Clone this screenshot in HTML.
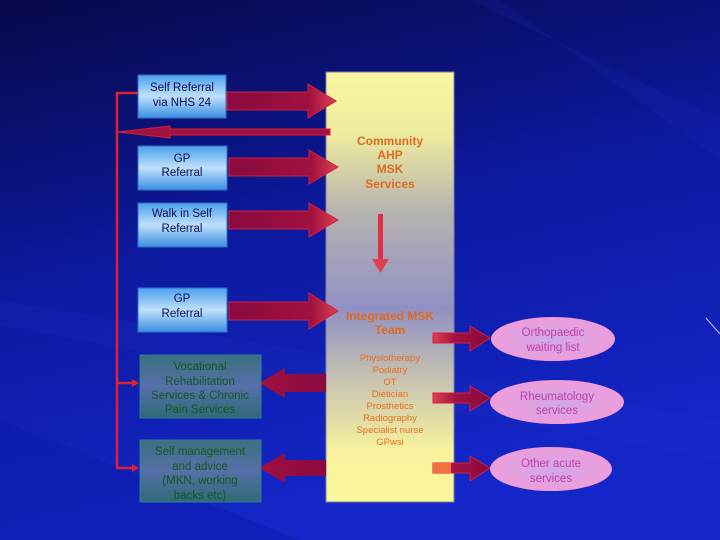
<!DOCTYPE html>
<html><head><meta charset="utf-8"><style>
html,body{margin:0;padding:0;width:720px;height:540px;overflow:hidden;background:#0a0a80}
svg{display:block}
text{font-family:"Liberation Sans",sans-serif}
</style></head><body>
<svg width="720" height="540" viewBox="0 0 720 540" xmlns="http://www.w3.org/2000/svg">
<defs>
<linearGradient id="bg" x1="0" y1="0" x2="0.3" y2="1">
<stop offset="0" stop-color="#080848"/><stop offset="0.5" stop-color="#0c1aa0"/><stop offset="1" stop-color="#1426c8"/>
</linearGradient>
<linearGradient id="col" x1="0" y1="0" x2="0" y2="1">
<stop offset="0" stop-color="#faf6a0"/><stop offset="0.15" stop-color="#ecea9e"/><stop offset="0.32" stop-color="#b8b4b0"/><stop offset="0.55" stop-color="#9090c4"/><stop offset="0.72" stop-color="#c8c4b0"/><stop offset="0.88" stop-color="#f6f29e"/><stop offset="1" stop-color="#faf69c"/>
</linearGradient>
<linearGradient id="blue" x1="0" y1="0" x2="0" y2="1">
<stop offset="0" stop-color="#4aa0ee"/><stop offset="0.5" stop-color="#bfe0fa"/><stop offset="1" stop-color="#3a8ee4"/>
</linearGradient>
<linearGradient id="teal" x1="0" y1="0" x2="0" y2="1">
<stop offset="0" stop-color="#3a7080"/><stop offset="0.5" stop-color="#5670a8"/><stop offset="1" stop-color="#2f6a78"/>
</linearGradient>
<linearGradient id="arr" x1="0" y1="0" x2="1" y2="0">
<stop offset="0" stop-color="#8a0a40"/><stop offset="0.75" stop-color="#a0103e"/><stop offset="1" stop-color="#e04050"/>
</linearGradient>
<linearGradient id="arrs" x1="0" y1="0" x2="1" y2="0">
<stop offset="0" stop-color="#e04050"/><stop offset="0.4" stop-color="#a0103e"/><stop offset="1" stop-color="#8a0a40"/>
</linearGradient>
<linearGradient id="arrl" x1="1" y1="0" x2="0" y2="0">
<stop offset="0" stop-color="#8a0a40"/><stop offset="1" stop-color="#a01040"/>
</linearGradient>
<radialGradient id="ell" cx="0.5" cy="0.5" r="0.6">
<stop offset="0" stop-color="#d0a8e8"/><stop offset="1" stop-color="#f49ad8"/>
</radialGradient>
</defs>
<rect width="720" height="540" fill="url(#bg)"/>
<path d="M470 0 L720 120 L720 160 L500 0Z" fill="#2030c0" opacity="0.15"/>
<path d="M0 300 L720 420 L720 460 L0 325Z" fill="#2a3ad8" opacity="0.12"/>
<path d="M0 420 L0 540 L300 540Z" fill="#0818a0" opacity="0.3"/>
<line x1="706" y1="318" x2="720" y2="334" stroke="#c0c8ff" stroke-width="1"/>

<rect x="326" y="72" width="128" height="430" fill="url(#col)" stroke="#8080a0" stroke-width="1"/>

<g stroke="#e02030" stroke-width="2.5" fill="none">
<polyline points="138,93 117,93 117,468 132,468"/>
<line x1="117" y1="383" x2="132" y2="383"/>
</g>
<polygon points="132,379 139,383 132,387" fill="#e02030"/>
<polygon points="132,464 139,468 132,472" fill="#e02030"/>
<polygon points="330,129 170,129 170,126 118,132 170,138 170,135 330,135" fill="#a01040" stroke="#e02030" stroke-width="1"/>

<g fill="url(#arr)" stroke="#d02040" stroke-width="1">
<polygon points="227,92 308,92 308,84 336,101 308,118 308,110 227,110"/>
<polygon points="229,158 309,158 309,150 338,167 309,184 309,176 229,176"/>
<polygon points="229,211 309,211 309,203 338,220 309,237 309,229 229,229"/>
<polygon points="229,302 309,302 309,293 338,311 309,329 309,320 229,320"/>
</g>
<rect x="378" y="214" width="5" height="46" fill="#e03048"/>
<polygon points="372,259 389,259 380.5,273" fill="#e04050"/>

<g fill="url(#arrl)" stroke="none">
<polygon points="326,374 285,374 285,368 259,383 285,398 285,392 326,392"/>
<polygon points="326,460 285,460 285,453 259,468 285,483 285,476 326,476"/>
</g>
<g stroke="#d02040" stroke-width="1" fill="url(#arrs)">
<polygon points="433,333 470,333 470,326 490,338 470,351 470,343 433,343"/>
<polygon points="433,393 470,393 470,386 490,398 470,411 470,403 433,403"/>
<polygon points="433,463 470,463 470,456 490,468 470,481 470,473 433,473"/>
</g>
<rect x="433" y="463" width="18" height="10" fill="#f07040"/>

<g fill="url(#blue)" stroke="#3070c0" stroke-width="1">
<rect x="138" y="75" width="88" height="43"/>
<rect x="138" y="146" width="89" height="44"/>
<rect x="138" y="203" width="89" height="44"/>
<rect x="138" y="288" width="89" height="44"/>
</g>
<g fill="#101050" font-size="11.5" text-anchor="middle">
<text x="182" y="91">Self Referral</text><text x="182" y="106">via NHS 24</text>
<text x="182" y="162">GP</text><text x="182" y="176">Referral</text>
<text x="182" y="217">Walk in Self</text><text x="182" y="232">Referral</text>
<text x="182" y="302">GP</text><text x="182" y="317">Referral</text>
</g>
<g fill="url(#teal)" stroke="#2a8090" stroke-width="1">
<rect x="140" y="355" width="121" height="63"/>
<rect x="140" y="440" width="121" height="62"/>
</g>
<g fill="#105a20" font-size="11.5" text-anchor="middle">
<text x="200" y="370">Vocational</text><text x="200" y="385">Rehabilitation</text><text x="200" y="399">Services &amp; Chronic</text><text x="200" y="413">Pain Services</text>
<text x="200" y="455">Self management</text><text x="200" y="470">and advice</text><text x="200" y="484">(MKN, working</text><text x="200" y="499">backs etc)</text>
</g>

<g fill="#e06a20" font-size="12" font-weight="bold" text-anchor="middle">
<text x="390" y="145">Community</text><text x="390" y="159">AHP</text><text x="390" y="173">MSK</text><text x="390" y="188">Services</text>
<text x="390" y="320">Integrated MSK</text><text x="390" y="334">Team</text>
</g>
<g fill="#e87020" font-size="9.5" text-anchor="middle">
<text x="390" y="361">Physiotherapy</text><text x="390" y="373">Podiatry</text><text x="390" y="385">OT</text><text x="390" y="397">Dietician</text><text x="390" y="409">Prosthetics</text><text x="390" y="421">Radiography</text><text x="390" y="433">Specialist nurse</text><text x="390" y="445">GPwsi</text>
</g>

<g fill="url(#ell)">
<ellipse cx="553" cy="339" rx="62" ry="22"/>
<ellipse cx="557" cy="402" rx="67" ry="22"/>
<ellipse cx="551" cy="469" rx="61" ry="22"/>
</g>
<g fill="#c040a8" font-size="11.5" text-anchor="middle">
<text x="553" y="336">Orthopaedic</text><text x="553" y="351">waiting list</text>
<text x="557" y="400">Rheumatology</text><text x="557" y="414">services</text>
<text x="551" y="467">Other acute</text><text x="551" y="482">services</text>
</g>
</svg>
</body></html>
